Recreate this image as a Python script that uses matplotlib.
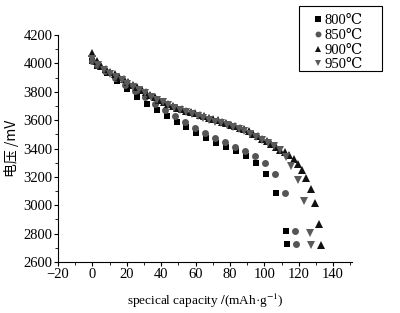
import matplotlib
matplotlib.use("Agg")
import matplotlib.pyplot as plt
from matplotlib.ticker import MultipleLocator
from matplotlib.patches import Rectangle

plt.rcParams['font.family'] = ['Liberation Serif', 'DejaVu Serif', 'Noto Sans CJK SC']
plt.rcParams['mathtext.fontset'] = 'stix'

labels = ["800℃", "850℃", "900℃", "950℃"]

x800 = [0, 2.9, 8.5, 14.3, 20.1, 25.9, 31.7, 37.5, 43.3, 49.1, 54.7, 60.5, 66.3,
        72.1, 77.9, 83.7, 89.5, 95.3, 101.2, 107, 112.8, 113.4]
y800 = [4020, 3985, 3932, 3873, 3819, 3764, 3714, 3671, 3628, 3586, 3551, 3508, 3473,
        3442, 3414, 3383, 3350, 3297, 3219, 3089, 2819, 2727]

x850 = [0, 2.9, 7.2, 13, 18.8, 24.6, 30.4, 36.4, 42.4, 48.3, 54, 59.9, 65.7, 71.5,
        77.3, 82.7, 88.5, 94.4, 100.2, 106, 111.8, 117.6, 118.4]
y850 = [4020, 3990, 3950, 3900, 3850, 3805, 3760, 3715, 3673, 3630, 3588, 3548, 3512, 3477,
        3445, 3414, 3383, 3350, 3297, 3219, 3089, 2819, 2727]

x900 = [0, 2.6, 5.2, 7.8, 10.4, 13, 15.6, 18.2, 20.8, 23.4, 26, 28.6, 31.2, 33.8, 36.4,
        39, 41.6, 44.2, 46.8, 49.4, 52, 54.6, 57.2, 59.8, 62.4, 65, 67.6, 70.2, 72.8,
        75.4, 78, 80.6, 83.2, 85.8, 88.4, 91, 93.6, 96.2, 98.8, 101.4, 104, 106.6,
        109.2, 111.8, 114.4, 117, 119.4, 121.9, 124.4, 126.9, 129.2, 132, 133.1]
y900 = [4075, 4015, 3985, 3960, 3943, 3925, 3907, 3887, 3868, 3850, 3832, 3814, 3796, 3778, 3761,
        3744, 3728, 3714, 3701, 3689, 3678, 3668, 3657, 3647, 3637, 3627, 3617, 3607, 3598,
        3588, 3578, 3568, 3558, 3547, 3535, 3520, 3505, 3488, 3470, 3450, 3430, 3410,
        3390, 3372, 3352, 3328, 3292, 3248, 3193, 3118, 3017, 2865, 2720]

x950 = [0, 3.4, 6.8, 10.2, 13.6, 17, 20.4, 23.8, 27.2, 30.6, 34, 37.4, 40.8, 44.2, 47.6,
        51, 54.4, 57.8, 61.2, 64.6, 68, 71.4, 74.8, 78.2, 81.6, 85, 88.4, 91.8, 95.2,
        98.6, 102, 105.4, 108.9, 112.6, 115.5, 119.4, 122.8, 126.3, 127.3]
y950 = [4030, 3990, 3955, 3928, 3905, 3882, 3858, 3835, 3812, 3789, 3766, 3745, 3725, 3706, 3689,
        3673, 3658, 3643, 3629, 3615, 3602, 3590, 3578, 3565, 3552, 3538, 3522, 3504, 3484,
        3462, 3440, 3418, 3390, 3339, 3277, 3179, 3030, 2801, 2720]

series = [(x800, y800, 's', '#000000', 4.6),
          (x850, y850, 'o', '#555555', 5.0),
          (x900, y900, '^', '#111111', 5.4),
          (x950, y950, 'v', '#5a5a5a', 5.4)]

W, H = 400, 313
fig = plt.figure(figsize=(4.0, 3.13), dpi=100)
ax = fig.add_axes([0.145, 0.163, 0.735, 0.725])

for (xs, ys, m, c, ms), lab in zip(series, labels):
    ax.plot(xs, ys, linestyle='none', marker=m, color=c, markersize=ms,
            markeredgewidth=0, label=lab)

ax.set_xlim(-20, 151)
ax.set_ylim(2600, 4200)
ax.xaxis.set_major_locator(MultipleLocator(20))
ax.xaxis.set_minor_locator(MultipleLocator(10))
ax.yaxis.set_major_locator(MultipleLocator(200))
ax.yaxis.set_minor_locator(MultipleLocator(100))
for s in ['top', 'right']:
    ax.spines[s].set_visible(False)
for s in ['left', 'bottom']:
    ax.spines[s].set_linewidth(0.8)
ax.tick_params(which='major', direction='out', length=3, width=0.8, labelsize=10.5, pad=1)
ax.tick_params(which='minor', direction='out', length=2, width=0.6)
ax.set_xticks([-20, 0, 20, 40, 60, 80, 100, 120, 140])
ax.set_xticklabels(['−20', '0', '20', '40', '60', '80', '100', '120', '140'])

ax.set_ylabel('电压 /mV', fontsize=10, family=['Noto Sans CJK SC', 'DejaVu Sans'], labelpad=3)
ax.set_xlabel(r'specical capacity $\mathit{/}$(mAh·g$^{-1}$)', fontsize=9.5, labelpad=8)

# legend frame (wider box as in the reference)
fig.patches.append(Rectangle((299 / W, 1 - 71 / H), 83 / W, 65 / H,
                             transform=fig.transFigure, fill=False,
                             edgecolor='#000000', linewidth=0.8))
leg = fig.legend(loc='upper left', bbox_to_anchor=(303 / W, 1 - 4 / H), frameon=False,
                 fontsize=10.5, handlelength=0.6, handletextpad=0.2, borderpad=0.2,
                 labelspacing=0.1, markerscale=0.85)

fig.savefig('out.png', dpi=100, facecolor='white')
